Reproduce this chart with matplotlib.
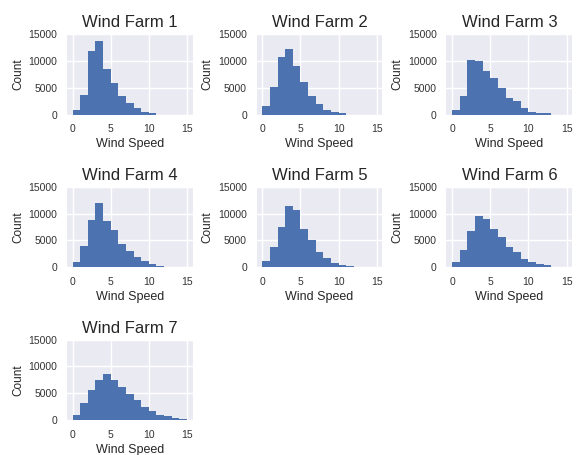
import numpy as np
import matplotlib
matplotlib.use("Agg")
import matplotlib.pyplot as plt

# counts per 1 m/s bin, bins 0-1 ... 14-15
bin_edges = list(range(0, 16))
farm_names = ["Wind Farm 1", "Wind Farm 2", "Wind Farm 3", "Wind Farm 4",
              "Wind Farm 5", "Wind Farm 6", "Wind Farm 7"]
farm1 = [900, 3600, 11900, 13700, 8500, 5900, 3500, 2200, 1300, 450, 200, 0, 0, 0, 0]
farm2 = [1500, 5100, 10800, 12150, 9000, 6100, 3500, 2000, 900, 450, 200, 0, 0, 0, 0]
farm3 = [900, 3500, 10100, 9900, 8100, 6800, 4900, 3000, 2500, 1300, 450, 250, 200, 0, 0]
farm4 = [900, 4000, 8750, 11900, 8700, 6900, 4250, 3100, 2000, 1100, 600, 250, 0, 0, 0]
farm5 = [1100, 3750, 7600, 11400, 10750, 7100, 5000, 2900, 1750, 750, 500, 250, 0, 0, 0]
farm6 = [900, 3300, 6750, 9600, 9000, 7100, 5600, 3750, 2750, 1600, 900, 600, 400, 0, 0]
farm7 = [950, 3200, 5600, 7400, 8550, 7450, 6100, 4800, 3800, 2500, 1600, 950, 700, 450, 250]
all_counts = [farm1, farm2, farm3, farm4, farm5, farm6, farm7]

plt.rcParams["font.family"] = ["Liberation Sans", "DejaVu Sans"]
plt.rcParams["axes.facecolor"] = "#EAEAF2"
plt.rcParams["axes.edgecolor"] = "white"
plt.rcParams["axes.grid"] = True
plt.rcParams["grid.color"] = "white"
plt.rcParams["grid.linewidth"] = 1.0
plt.rcParams["axes.axisbelow"] = True
plt.rcParams["text.color"] = "#262626"
plt.rcParams["axes.labelcolor"] = "#262626"
plt.rcParams["xtick.color"] = "#333333"
plt.rcParams["ytick.color"] = "#333333"
plt.rcParams["xtick.major.size"] = 0
plt.rcParams["ytick.major.size"] = 0

fig, axes = plt.subplots(3, 3, figsize=(5.81, 4.55), dpi=100)
fig.subplots_adjust(left=0.115, right=0.985, top=0.925, bottom=0.077,
                    wspace=0.508, hspace=0.9)

for i, ax in enumerate(axes.flat):
    if i >= len(all_counts):
        ax.axis("off")
        continue
    ax.hist(bin_edges[:-1], bins=bin_edges, weights=all_counts[i], color="#4C72B0")
    for sp in ax.spines.values():
        sp.set_visible(False)
    ax.set_ylim(0, 15000)
    ax.set_yticks([0, 5000, 10000, 15000])
    ax.set_xticks([0, 5, 10, 15])
    ax.tick_params(labelsize=7.5, pad=7)
    ax.set_title(farm_names[i], fontsize=12, pad=5)
    ax.set_xlabel("Wind Speed", fontsize=9, labelpad=3)
    ax.set_ylabel("Count", fontsize=8.5, labelpad=3)

fig.savefig("out.png", dpi=100)
